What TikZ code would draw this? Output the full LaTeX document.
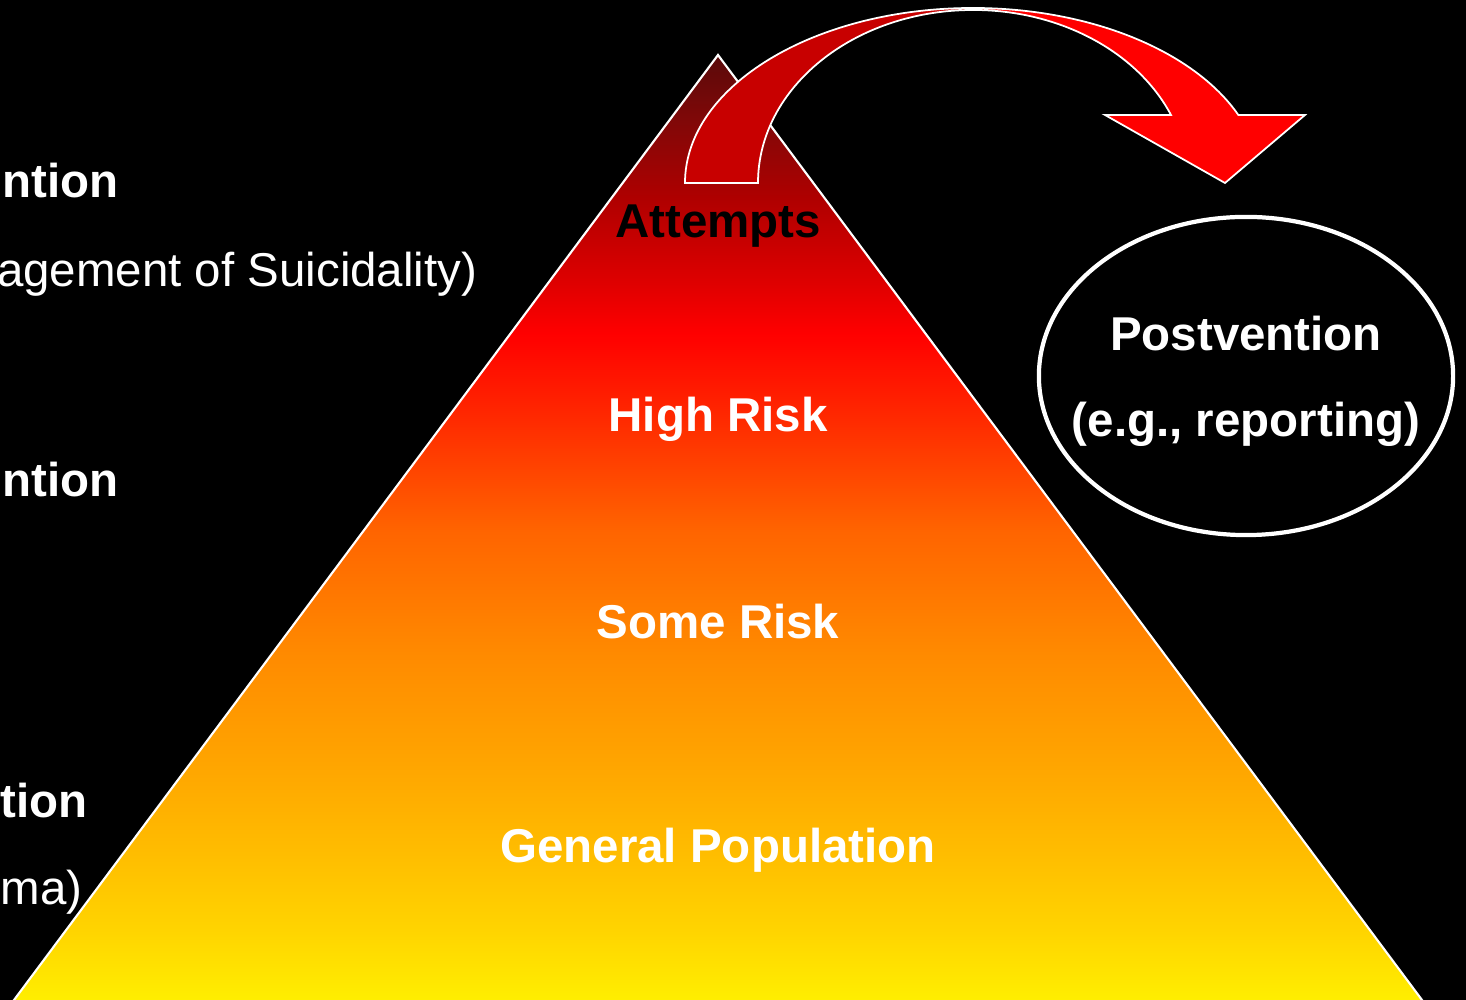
\documentclass[tikz,border=0pt]{standalone}
\usepackage{fontspec}
\setmainfont{Liberation Sans}
\usetikzlibrary{shapes.geometric}
\definecolor{pyr0}{HTML}{FFF000}
\definecolor{pyr1}{HTML}{FFD400}
\definecolor{pyr2}{HTML}{FFBC00}
\definecolor{pyr3}{HTML}{FFA800}
\definecolor{pyr4}{HTML}{FF8A00}
\definecolor{pyr5}{HTML}{FF6400}
\definecolor{pyr6}{HTML}{FF2400}
\definecolor{pyr7}{HTML}{FF0000}
\definecolor{pyr8}{HTML}{E00000}
\definecolor{pyr9}{HTML}{B00000}
\definecolor{pyr10}{HTML}{800808}
\definecolor{pyr11}{HTML}{5A0A0A}
\definecolor{arrowback}{HTML}{C80000}
\pgfdeclareverticalshading{pyramid}{100bp}{color(0bp)=(pyr0); color(25bp)=(pyr0);
  color(28.95bp)=(pyr1); color(33.16bp)=(pyr2); color(37.05bp)=(pyr3);
  color(43.53bp)=(pyr4); color(50bp)=(pyr5); color(56.42bp)=(pyr6);
  color(60.32bp)=(pyr7); color(62.89bp)=(pyr8); color(67.37bp)=(pyr9);
  color(71.58bp)=(pyr10); color(75bp)=(pyr11); color(100bp)=(pyr11)}
\def\fs{\fontsize{13.5}{16}\selectfont}

\begin{document}
\begin{tikzpicture}[x=0.01cm,y=0.01cm,
    label/.style={font=\fs\bfseries,text=white,inner sep=0pt},
    side/.style={font=\fs,text=white,inner sep=0pt},
    band/.style={draw=white,line width=0.5pt}]

    \useasboundingbox (0,0) rectangle (1466,1000);
    \fill[black] (0,0) rectangle (1466,1000);
    \clip (0,0) rectangle (1466,1000);

    \shade[shading=pyramid,draw=white,line width=0.6pt] (10.3,-5) -- (718,945) -- (1425.7,-5) -- cycle;

    \draw[band,fill=arrowback] (685,817) arc[start angle=180,end angle=90,x radius=288,y radius=175]
        -- (973,990) arc[start angle=90,end angle=180,x radius=215,y radius=173] -- cycle;
    \draw[band,fill=red] (973,992) arc[start angle=90,end angle=22.87,x radius=288,y radius=175]
        -- (1305,885) -- (1225,817) -- (1105,885) -- (1171,885)
        arc[start angle=23.14,end angle=90,x radius=215,y radius=173] -- cycle;

    \node[label,text=black,anchor=base] (AT) at (718,762) {Attempts};
    \node[label,anchor=base] (HR) at (718,568) {High Risk};
    \node[label,anchor=base] (SR) at (718,361) {Some Risk};
    \node[label,anchor=base] (GP) at (718,137) {General Population};

    \node[ellipse,draw=white,line width=1.2pt,minimum width=4.14cm,minimum height=3.18cm] (PV) at (1246,624) {};
    \node[label,anchor=base] (PT) at (1246,649) {Postvention};
    \node[label,anchor=base] (PE) at (1246,563) {(e.g., reporting)};

    \node[label,anchor=base west] (IN) at (2,802) {ntion};
    \node[side,anchor=base east] (IM) at (478,713) {agement of Suicidality)};
    \node[label,anchor=base west] (SE) at (2,503) {ntion};
    \node[label,anchor=base east] (UN) at (88,182) {tion};
    \node[side,anchor=base west] (US) at (0,95) {ma)};

\end{tikzpicture}
\end{document}
